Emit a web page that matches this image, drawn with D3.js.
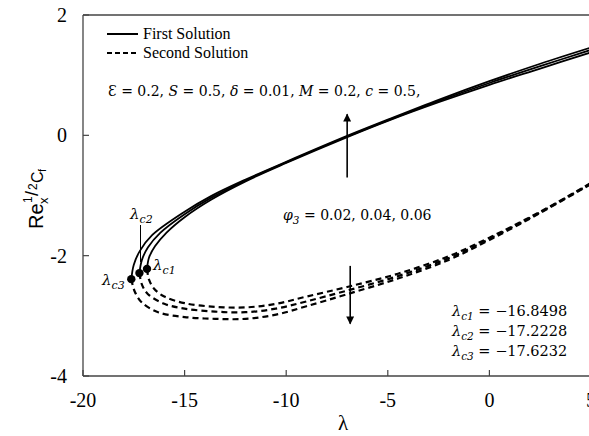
<!DOCTYPE html>
<html>
<head>
<meta charset="utf-8">
<script src="https://cdn.jsdelivr.net/npm/d3@7"></script>
<style>
  body { margin: 0; background: #fff; }
  svg { display: block; }
  text { fill: #000; }
</style>
</head>
<body>
<svg id="chart" width="589" height="436"></svg>
<script>
// tick values
const xTicks = [-20, -15, -10, -5, 0, 5];
const yTicks = [-4, -2, 0, 2];

// phi3 values and critical points
const phiValues = [0.02, 0.04, 0.06];
const lambdaC = [-16.8498, -17.2228, -17.6232];
const cfCrit = [-2.22, -2.29, -2.39];

// first solution (upper branch), phi3 = 0.02, 0.04, 0.06
const firstLam1 = [-16.8498, -16.75, -16.45, -15.9, -15.0, -13.7, -12.0, -10.0, -7.0, -5.0, -2.5, 0, 2.5, 5.0];
const firstCf1  = [-2.22, -2.03, -1.84, -1.62, -1.36, -1.07, -0.765, -0.46, -0.03, 0.24, 0.55, 0.84, 1.11, 1.38];
const firstLam2 = [-17.2228, -17.1, -16.8, -16.2, -15.0, -13.7, -12.0, -10.0, -7.0, -5.0, -2.5, 0, 2.5, 5.0];
const firstCf2  = [-2.29, -2.07, -1.86, -1.62, -1.31, -1.04, -0.75, -0.45, -0.02, 0.25, 0.57, 0.87, 1.15, 1.42];
const firstLam3 = [-17.6232, -17.5, -17.2, -16.6, -15.0, -13.7, -12.0, -10.0, -7.0, -5.0, -2.5, 0, 2.5, 5.0];
const firstCf3  = [-2.39, -2.15, -1.92, -1.66, -1.27, -1.01, -0.735, -0.44, -0.01, 0.26, 0.59, 0.90, 1.19, 1.46];

// second solution (lower branch)
const secondLam1 = [-16.8498, -16.75, -16.5, -16.0, -15.0, -13.5, -12.0, -10.5, -9.0, -7.0, -4.5, -2.0, 0, 2.5, 5.0];
const secondCf1  = [-2.22, -2.40, -2.55, -2.68, -2.79, -2.85, -2.86, -2.80, -2.68, -2.52, -2.30, -2.01, -1.70, -1.27, -0.79];
const secondLam2 = [-17.2228, -17.1, -16.8, -16.0, -15.0, -13.5, -12.0, -10.5, -9.0, -7.0, -4.5, -2.0, 0, 2.5, 5.0];
const secondCf2  = [-2.29, -2.48, -2.64, -2.80, -2.88, -2.93, -2.94, -2.88, -2.76, -2.58, -2.34, -2.04, -1.72, -1.28, -0.80];
const secondLam3 = [-17.6232, -17.45, -17.1, -16.3, -15.0, -13.5, -12.0, -10.5, -9.0, -7.0, -4.5, -2.0, 0, 2.5, 5.0];
const secondCf3  = [-2.39, -2.60, -2.78, -2.94, -3.02, -3.05, -3.05, -2.98, -2.84, -2.64, -2.38, -2.07, -1.74, -1.29, -0.81];

const svg = d3.select('#chart');
const x = d3.scaleLinear().domain([-20, 5]).range([83, 591]);
const y = d3.scaleLinear().domain([-4, 2]).range([376, 15]);

const serif = "'Liberation Serif', Tinos, 'Times New Roman', serif";
const axisColor = '#444';

// arrow marker
svg.append('defs').append('marker')
  .attr('id', 'head')
  .attr('viewBox', '0 0 10 10')
  .attr('refX', 9).attr('refY', 5)
  .attr('markerWidth', 9).attr('markerHeight', 8)
  .attr('markerUnits', 'userSpaceOnUse')
  .attr('orient', 'auto')
  .append('path')
  .attr('d', 'M0,0L10,5L0,10Z')
  .attr('fill', '#000');

// frame: left, bottom, top
svg.append('line').attr('x1', x(-20)).attr('x2', x(-20)).attr('y1', y(2)).attr('y2', y(-4))
  .attr('stroke', axisColor).attr('stroke-width', 1.3);
svg.append('line').attr('x1', x(-20)).attr('x2', 589).attr('y1', y(-4)).attr('y2', y(-4))
  .attr('stroke', axisColor).attr('stroke-width', 1.3);
svg.append('line').attr('x1', x(-20)).attr('x2', 589).attr('y1', y(2)).attr('y2', y(2))
  .attr('stroke', axisColor).attr('stroke-width', 1.3);

// ticks (inward) and labels
svg.selectAll('.xtick').data(xTicks).enter().append('line')
  .attr('x1', d => x(d)).attr('x2', d => x(d))
  .attr('y1', y(-4)).attr('y2', y(-4) - 6)
  .attr('stroke', axisColor).attr('stroke-width', 1.2);
svg.selectAll('.xlab').data(xTicks).enter().append('text')
  .attr('x', d => x(d)).attr('y', 407)
  .attr('text-anchor', 'middle')
  .attr('font-family', serif).attr('font-size', 20)
  .text(d => d);
svg.selectAll('.ytick').data(yTicks).enter().append('line')
  .attr('x1', x(-20)).attr('x2', x(-20) + 6)
  .attr('y1', d => y(d)).attr('y2', d => y(d))
  .attr('stroke', axisColor).attr('stroke-width', 1.2);
svg.selectAll('.ylab').data(yTicks).enter().append('text')
  .attr('x', 67).attr('y', d => y(d) + 7)
  .attr('text-anchor', 'end')
  .attr('font-family', serif).attr('font-size', 20)
  .text(d => d);

// axis titles
svg.append('text').attr('x', 343).attr('y', 430)
  .attr('text-anchor', 'middle')
  .attr('font-family', serif).attr('font-size', 21)
  .text('λ');

const yt = svg.append('text')
  .attr('transform', 'translate(43,229) rotate(-90)')
  .attr('font-family', "'Liberation Sans', Arial, sans-serif");
yt.append('tspan').attr('x', 0).attr('y', 0).attr('font-size', 20).text('Re');
yt.append('tspan').attr('x', 25).attr('y', 5).attr('font-size', 13).text('x');
yt.append('tspan').attr('x', 26).attr('y', -11).attr('font-size', 12).text('1');
yt.append('tspan').attr('x', 33).attr('y', -5).attr('font-size', 18).text('/');
yt.append('tspan').attr('x', 39).attr('y', -6).attr('font-size', 12).text('2');
yt.append('tspan').attr('x', 46).attr('y', 0).attr('font-size', 16).text('C');
yt.append('tspan').attr('x', 57).attr('y', 3).attr('font-size', 11).text('f');

// curves
const line = d3.line()
  .x(d => x(d[0])).y(d => y(d[1]))
  .curve(d3.curveCatmullRom.alpha(0.5));

const firstSeries = [
  d3.zip(firstLam1, firstCf1),
  d3.zip(firstLam2, firstCf2),
  d3.zip(firstLam3, firstCf3)
];
const secondSeries = [
  d3.zip(secondLam1, secondCf1),
  d3.zip(secondLam2, secondCf2),
  d3.zip(secondLam3, secondCf3)
];

const plot = svg.append('g');
plot.selectAll('.first').data(firstSeries).enter().append('path')
  .attr('d', line)
  .attr('fill', 'none').attr('stroke', '#000').attr('stroke-width', 1.8);
plot.selectAll('.second').data(secondSeries).enter().append('path')
  .attr('d', line)
  .attr('fill', 'none').attr('stroke', '#000').attr('stroke-width', 2.2)
  .attr('stroke-dasharray', '6,4');

// critical points
plot.selectAll('.crit').data(d3.zip(lambdaC, cfCrit)).enter().append('circle')
  .attr('cx', d => x(d[0])).attr('cy', d => y(d[1]))
  .attr('r', 4.2).attr('fill', '#000');

// legend
svg.append('line').attr('x1', 107).attr('x2', 138).attr('y1', 34).attr('y2', 34)
  .attr('stroke', '#000').attr('stroke-width', 2);
svg.append('line').attr('x1', 107).attr('x2', 138).attr('y1', 53).attr('y2', 53)
  .attr('stroke', '#000').attr('stroke-width', 2).attr('stroke-dasharray', '5,3');
svg.append('text').attr('x', 143).attr('y', 39)
  .attr('font-family', serif).attr('font-size', 16).text('First Solution');
svg.append('text').attr('x', 143).attr('y', 58)
  .attr('font-family', serif).attr('font-size', 16).text('Second Solution');

// parameters text
const mathFont = "'DejaVu Serif', serif";
function mathText(xp, yp, parts, size) {
  const t = svg.append('text').attr('x', xp).attr('y', yp)
    .attr('font-family', mathFont).attr('font-size', size);
  parts.forEach(p => {
    const s = t.append('tspan').text(p.t);
    if (p.i) s.attr('font-style', 'italic');
  });
  return t;
}
mathText(108, 96, [
  {t: 'Ɛ = 0.2, '}, {t: 'S', i: 1}, {t: ' = 0.5, '}, {t: 'δ', i: 1}, {t: ' = 0.01, '},
  {t: 'M', i: 1}, {t: ' = 0.2, '}, {t: 'c', i: 1}, {t: ' = 0.5,'}
], 14);

const phiT = mathText(283, 220, [{t: 'φ', i: 1}], 14);
phiT.append('tspan').attr('dy', 4).attr('font-size', 10.5).attr('font-style', 'italic').text('3');
phiT.append('tspan').attr('dy', -4).text(' = ' + phiValues.join(', '));

// lambda_c list
lambdaC.forEach((v, i) => {
  const t = svg.append('text').attr('x', 452).attr('y', 316 + i * 20)
    .attr('font-family', mathFont).attr('font-size', 14.5);
  t.append('tspan').attr('font-style', 'italic').text('λ');
  t.append('tspan').attr('dy', 4).attr('font-size', 10.5).attr('font-style', 'italic').text('c' + (i + 1));
  t.append('tspan').attr('dy', -4).text(' = −' + Math.abs(v).toFixed(4));
});

// lambda_c labels near the nose
function critLabel(xp, yp, k) {
  const t = svg.append('text').attr('x', xp).attr('y', yp)
    .attr('font-family', mathFont).attr('font-size', 15);
  t.append('tspan').attr('font-style', 'italic').text('λ');
  t.append('tspan').attr('dy', 4).attr('font-size', 11).attr('font-style', 'italic').text('c' + k);
}
critLabel(130, 219, 2);
critLabel(153, 270, 1);
critLabel(102, 285, 3);
svg.append('line').attr('x1', 140.5).attr('x2', 140.5).attr('y1', 225).attr('y2', 262)
  .attr('stroke', '#000').attr('stroke-width', 1);

// arrows
svg.append('line').attr('x1', x(-7)).attr('x2', x(-7)).attr('y1', y(-0.7)).attr('y2', y(0.35))
  .attr('stroke', '#000').attr('stroke-width', 1.6).attr('marker-end', 'url(#head)');
svg.append('line').attr('x1', x(-6.85)).attr('x2', x(-6.85)).attr('y1', y(-2.17)).attr('y2', y(-3.13))
  .attr('stroke', '#000').attr('stroke-width', 1.6).attr('marker-end', 'url(#head)');
</script>
</body>
</html>
